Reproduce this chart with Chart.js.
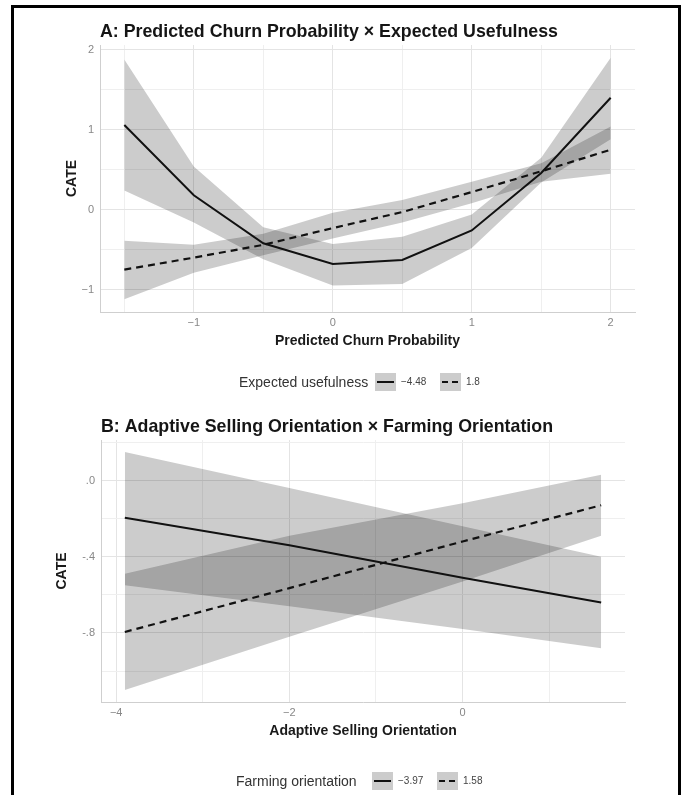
<!DOCTYPE html>
<html><head><meta charset="utf-8">
<script src="https://cdn.jsdelivr.net/npm/chart.js@4.4.1/dist/chart.umd.min.js"></script>
<style>
body{margin:0;background:#fff;width:682px;height:795px;overflow:hidden;position:relative;font-family:"Liberation Sans",Arial,sans-serif;}
#frame{position:absolute;left:11px;top:5px;width:664px;height:830px;border:3px solid #000;pointer-events:none;}
.cv{position:absolute;left:0;}
.lt{position:absolute;font-size:14px;color:#333;white-space:nowrap;line-height:16px;}
.ll{position:absolute;font-size:10px;color:#444;white-space:nowrap;line-height:12px;}
.key{position:absolute;width:21px;height:18px;background:#cccccc;}
.key i{position:absolute;top:8px;height:2px;background:#111;}
</style></head>
<body>
<div id="wrapA" class="cv" style="top:0;width:682px;height:370px;"><canvas id="cA"></canvas></div>
<div id="wrapB" class="cv" style="top:370px;width:682px;height:425px;"><canvas id="cB"></canvas></div>
<div id="legA"></div>
<div id="legB"></div>
<div id="frame"></div>
<script>
// ---------- Panel A data ----------
const titleA = 'A: Predicted Churn Probability \u00d7 Expected Usefulness';
const xTitleA = 'Predicted Churn Probability';
const legendTitleA = 'Expected usefulness';
const legendLabelsA = ['\u22124.48', '1.8'];
const xA = [-1.5, -1, -0.5, 0, 0.5, 1, 1.5, 2];
const solidA       = [1.06, 0.18, -0.42, -0.68, -0.63, -0.26, 0.46, 1.40];
const solidUpperA  = [1.88, 0.54, -0.22, -0.43, -0.34, -0.06, 0.65, 1.90];
const solidLowerA  = [0.24, -0.16, -0.62, -0.95, -0.93, -0.48, 0.34, 0.88];
const dashedA      = [-0.75, -0.60, -0.44, -0.23, -0.03, 0.22, 0.48, 0.75];
const dashedUpperA = [-0.39, -0.44, -0.30, -0.04, 0.12, 0.35, 0.58, 1.04];
const dashedLowerA = [-1.12, -0.79, -0.57, -0.36, -0.16, 0.08, 0.35, 0.45];
const xTicksA = [-1, 0, 1, 2];
const xTickLabelsA = ['\u22121', '0', '1', '2'];
const xMinorA = [-1.5, -0.5, 0.5, 1.5];
const yTicksA = [-1, 0, 1, 2];
const yTickLabelsA = ['\u22121', '0', '1', '2'];
const yMinorA = [-0.5, 0.5, 1.5];

// ---------- Panel B data ----------
const titleB = 'B: Adaptive Selling Orientation \u00d7 Farming Orientation';
const xTitleB = 'Adaptive Selling Orientation';
const legendTitleB = 'Farming orientation';
const legendLabelsB = ['\u22123.97', '1.58'];
const xB = [-3.9, -2, 0, 1.6];
const solidB       = [-0.195, -0.34, -0.51, -0.64];
const solidUpperB  = [0.15, -0.04, -0.24, -0.40];
const solidLowerB  = [-0.55, -0.66, -0.78, -0.88];
const dashedB      = [-0.795, -0.565, -0.32, -0.13];
const dashedUpperB = [-0.49, -0.29, -0.12, 0.03];
const dashedLowerB = [-1.10, -0.82, -0.53, -0.29];
const xTicksB = [-4, -2, 0];
const xTickLabelsB = ['\u22124', '\u22122', '0'];
const xMinorB = [-3, -1, 1];
const yTicksB = [0, -0.4, -0.8];
const yTickLabelsB = ['.0', '-.4', '-.8'];
const yMinorB = [0.2, -0.2, -0.6, -1.0];

const yTitle = 'CATE';

// ---------- helpers ----------
const FONT = '"Liberation Sans", Arial, sans-serif';
const RIBBON = 'rgba(0,0,0,0.2)';
function pts(xs, ys){ return xs.map((x,i)=>({x:x, y:ys[i]})); }
function near(a,b){ return Math.abs(a-b) < 1e-6; }
function findIdx(arr, v){ for(let i=0;i<arr.length;i++){ if(near(arr[i],v)) return i; } return -1; }

const panelTitle = {
  id:'panelTitle',
  afterDraw(chart, args, opts){
    const ctx = chart.ctx;
    ctx.save();
    ctx.font = 'bold 17.8px ' + FONT;
    ctx.fillStyle = '#151515';
    ctx.textBaseline = 'alphabetic';
    ctx.textAlign = 'left';
    ctx.fillText(opts.text, chart.chartArea.left, opts.baseline);
    ctx.restore();
  }
};

function makeChart(id, p){
  const ds = [
    {data: pts(p.x, p.solid), borderColor:'#111', borderWidth:2, pointRadius:0, fill:false, order:0},
    {data: pts(p.x, p.dashed), borderColor:'#111', borderWidth:2.2, borderDash:[7,5], pointRadius:0, fill:false, order:0},
    {data: pts(p.x, p.solidUpper), borderWidth:0, borderColor:'rgba(0,0,0,0)', backgroundColor:RIBBON, pointRadius:0, fill:'+1', order:1},
    {data: pts(p.x, p.solidLower), borderWidth:0, borderColor:'rgba(0,0,0,0)', pointRadius:0, fill:false, order:1},
    {data: pts(p.x, p.dashedUpper), borderWidth:0, borderColor:'rgba(0,0,0,0)', backgroundColor:RIBBON, pointRadius:0, fill:'+1', order:1},
    {data: pts(p.x, p.dashedLower), borderWidth:0, borderColor:'rgba(0,0,0,0)', pointRadius:0, fill:false, order:1}
  ];
  const gridCfg = (major) => ({
    drawTicks:false,
    color: c => (c.tick && findIdx(major, c.tick.value) >= 0) ? '#e4e4e4' : '#efefef',
    lineWidth: 1
  });
  return new Chart(document.getElementById(id), {
    type:'line',
    data:{datasets: ds},
    options:{
      responsive:true, maintainAspectRatio:false, animation:false,
      parsing:true, normalized:true,
      layout:{padding:p.pad},
      plugins:{legend:{display:false}, tooltip:{enabled:false}, title:{display:false},
        panelTitle:{text:p.title, baseline:p.titleBaseline}},
      scales:{
        x:{type:'linear', min:p.xMin, max:p.xMax,
          afterBuildTicks: s => { s.ticks = p.xMajor.concat(p.xMinor).sort((a,b)=>a-b).map(v=>({value:v})); },
          afterFit: s => { s.height = 40; },
          ticks:{autoSkip:false, maxRotation:0, padding:4, color:'#888', font:{family:FONT, size:11},
            callback: v => { const i = findIdx(p.xMajor, v); return i>=0 ? p.xLabels[i] : ''; }},
          grid: gridCfg(p.xMajor),
          border:{display:true, color:'#cfcfcf', width:1},
          title:{display:true, text:p.xTitle, color:'#1a1a1a', font:{family:FONT, size:14, weight:'bold'}, padding:{top:0,bottom:2}}
        },
        y:{type:'linear', min:p.yMin, max:p.yMax,
          afterBuildTicks: s => { s.ticks = p.yMajor.concat(p.yMinor).sort((a,b)=>a-b).map(v=>({value:v})); },
          afterFit: s => { s.width = p.yWidth; },
          ticks:{autoSkip:false, padding:6, color:'#888', font:{family:FONT, size:11},
            callback: v => { const i = findIdx(p.yMajor, v); return i>=0 ? p.yLabels[i] : ''; }},
          grid: gridCfg(p.yMajor),
          border:{display:true, color:'#cfcfcf', width:1},
          title:{display:true, text:yTitle, color:'#1a1a1a', font:{family:FONT, size:14, weight:'bold'}, padding:{top:4,bottom:0}}
        }
      }
    },
    plugins:[panelTitle]
  });
}

makeChart('cA', {
  title:titleA, titleBaseline:37, xTitle:xTitleA,
  x:xA, solid:solidA, solidUpper:solidUpperA, solidLower:solidLowerA,
  dashed:dashedA, dashedUpper:dashedUpperA, dashedLower:dashedLowerA,
  xMin:-1.675, xMax:2.175, yMin:-1.28, yMax:2.06,
  xMajor:xTicksA, xLabels:xTickLabelsA, xMinor:xMinorA,
  yMajor:yTicksA, yLabels:yTickLabelsA, yMinor:yMinorA,
  pad:{left:60, right:47, top:45, bottom:18}, yWidth:40
});
makeChart('cB', {
  title:titleB, titleBaseline:62, xTitle:xTitleB,
  x:xB, solid:solidB, solidUpper:solidUpperB, solidLower:solidLowerB,
  dashed:dashedB, dashedUpper:dashedUpperB, dashedLower:dashedLowerB,
  xMin:-4.175, xMax:1.875, yMin:-1.1625, yMax:0.2125,
  xMajor:xTicksB, xLabels:xTickLabelsB, xMinor:xMinorB,
  yMajor:yTicksB, yLabels:yTickLabelsB, yMinor:yMinorB,
  pad:{left:50, right:57, top:70, bottom:53}, yWidth:51
});

// ---------- legends ----------
function buildLegend(el, title, labels, x0, cy){
  const parts = [];
  parts.push(`<span class="lt" style="left:${x0}px;top:${cy-8}px">${title}</span>`);
  const k1 = x0 + 136, l1 = k1 + 26, k2 = k1 + 65, l2 = k2 + 26;
  parts.push(`<div class="key" style="left:${k1}px;top:${cy-9}px"><i style="left:2px;width:17px"></i></div>`);
  parts.push(`<span class="ll" style="left:${l1}px;top:${cy-6}px">${labels[0]}</span>`);
  parts.push(`<div class="key" style="left:${k2}px;top:${cy-9}px"><i style="left:2px;width:6px"></i><i style="left:12px;width:6px"></i></div>`);
  parts.push(`<span class="ll" style="left:${l2}px;top:${cy-6}px">${labels[1]}</span>`);
  el.innerHTML = parts.join('');
}
buildLegend(document.getElementById('legA'), legendTitleA, legendLabelsA, 239, 382);
buildLegend(document.getElementById('legB'), legendTitleB, legendLabelsB, 236, 781);
</script>
</body></html>
